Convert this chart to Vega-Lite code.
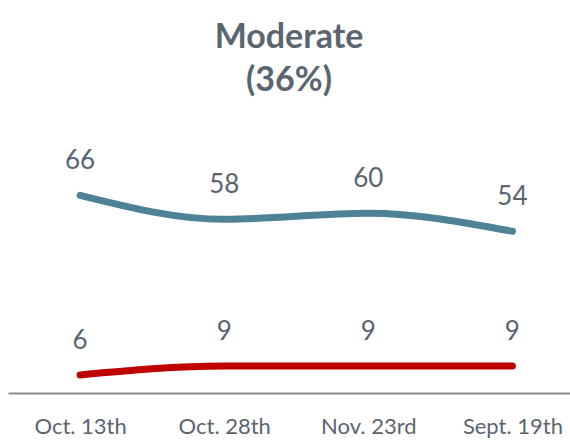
{
  "$schema": "https://vega.github.io/schema/vega-lite/v6.json",
  "autosize": "none",
  "width": 562,
  "height": 283,
  "padding": {"left": 8, "top": 110, "right": 0, "bottom": 50},
  "background": "white",
  "title": {
    "text": ["Moderate", "(36%)"],
    "font": "Lato",
    "fontSize": 34,
    "fontWeight": "bold",
    "color": "#5a6570",
    "lineHeight": 43,
    "anchor": "middle",
    "offset": 12
  },
  "config": {"view": {"stroke": null}},
  "data": {
    "values": [
      {"date": "Oct. 13th", "series": "Approve", "value": 66},
      {"date": "Oct. 28th", "series": "Approve", "value": 58},
      {"date": "Nov. 23rd", "series": "Approve", "value": 60},
      {"date": "Sept. 19th", "series": "Approve", "value": 54},
      {"date": "Oct. 13th", "series": "Disapprove", "value": 6},
      {"date": "Oct. 28th", "series": "Disapprove", "value": 9},
      {"date": "Nov. 23rd", "series": "Disapprove", "value": 9},
      {"date": "Sept. 19th", "series": "Disapprove", "value": 9}
    ]
  },
  "encoding": {
    "x": {
      "field": "date",
      "type": "ordinal",
      "sort": null,
      "scale": {"type": "point", "padding": 0.45, "align": 0.556},
      "axis": {
        "title": null,
        "ticks": false,
        "grid": false,
        "labelAngle": 0,
        "labelFont": "Lato",
        "labelFontSize": 22,
        "labelColor": "#5a6570",
        "labelPadding": 23,
        "domainColor": "#8c8c8c",
        "domainWidth": 2
      }
    },
    "y": {
      "field": "value",
      "type": "quantitative",
      "scale": {"domain": [0, 94.5], "nice": false},
      "axis": null
    },
    "color": {
      "field": "series",
      "type": "nominal",
      "scale": {"domain": ["Approve", "Disapprove"], "range": ["#4e8296", "#c00000"]},
      "legend": null
    }
  },
  "layer": [
    {
      "mark": {"type": "line", "interpolate": "monotone", "strokeWidth": 7, "strokeCap": "round"}
    },
    {
      "mark": {"type": "text", "font": "Lato", "fontSize": 26, "dy": -34, "baseline": "middle", "color": "#5a6570"},
      "encoding": {
        "text": {"field": "value", "type": "quantitative"},
        "color": {"value": "#5a6570"}
      }
    }
  ]
}
